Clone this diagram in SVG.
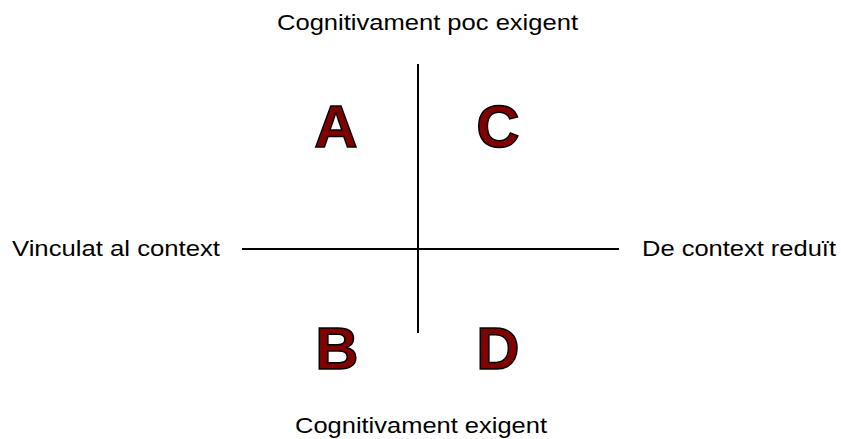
<svg xmlns="http://www.w3.org/2000/svg" width="841" height="439" viewBox="0 0 841 439">
<style>
.lbl{font-family:"Liberation Sans",Arial,sans-serif;font-size:22px;fill:#000}
.big{font-family:"Liberation Sans",Arial,sans-serif;font-size:60px;font-weight:bold;fill:#800000;stroke:#000;stroke-width:1.5;text-anchor:middle}
.ax{stroke:#000;stroke-width:2;fill:none}
</style>
<rect width="841" height="439" fill="#fff"/>
<g id="connectors">
<line class="ax" x1="418" y1="64" x2="418" y2="333"/>
<line class="ax" x1="242" y1="249" x2="619" y2="249"/>
</g>
<g id="top"><text class="lbl" x="277" y="30" textLength="301" lengthAdjust="spacingAndGlyphs">Cognitivament poc exigent</text></g>
<g id="bottom"><text class="lbl" x="295" y="433" textLength="252" lengthAdjust="spacingAndGlyphs">Cognitivament exigent</text></g>
<g id="left"><text class="lbl" x="12" y="256" textLength="208" lengthAdjust="spacingAndGlyphs">Vinculat al context</text></g>
<g id="right"><text class="lbl" x="642" y="256" textLength="194" lengthAdjust="spacingAndGlyphs">De context reduït</text></g>
<g id="A"><text class="big" x="336" y="147">A</text></g>
<g id="C"><text class="big" x="498" y="147">C</text></g>
<g id="B"><text class="big" x="337" y="369">B</text></g>
<g id="D"><text class="big" x="498" y="369">D</text></g>
</svg>
